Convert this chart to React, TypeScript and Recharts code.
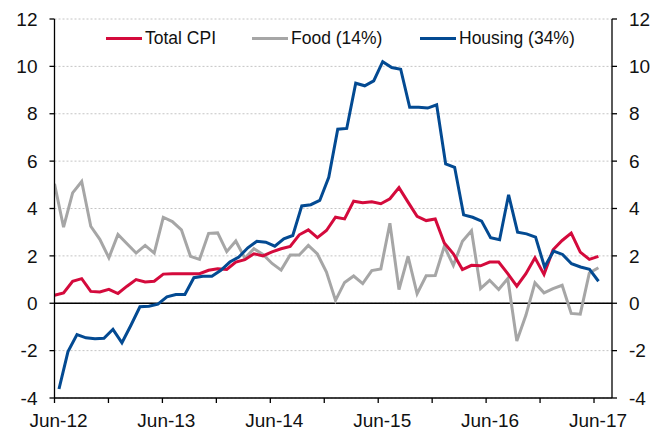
import React from 'react';
import { LineChart, Line, XAxis, YAxis, CartesianGrid, ReferenceLine, Legend } from 'recharts';

// Monthly observations, Jun-12 .. Jun-17 (61 months)
const months = [
  'Jun-12','Jul-12','Aug-12','Sep-12','Oct-12','Nov-12','Dec-12','Jan-13','Feb-13','Mar-13','Apr-13','May-13',
  'Jun-13','Jul-13','Aug-13','Sep-13','Oct-13','Nov-13','Dec-13','Jan-14','Feb-14','Mar-14','Apr-14','May-14',
  'Jun-14','Jul-14','Aug-14','Sep-14','Oct-14','Nov-14','Dec-14','Jan-15','Feb-15','Mar-15','Apr-15','May-15',
  'Jun-15','Jul-15','Aug-15','Sep-15','Oct-15','Nov-15','Dec-15','Jan-16','Feb-16','Mar-16','Apr-16','May-16',
  'Jun-16','Jul-16','Aug-16','Sep-16','Oct-16','Nov-16','Dec-16','Jan-17','Feb-17','Mar-17','Apr-17','May-17',
  'Jun-17',
];

const totalCPI = [
  0.34, 0.44, 0.93, 1.04, 0.5, 0.48, 0.59, 0.41, 0.72, 1.0, 0.9, 0.93,
  1.23, 1.25, 1.25, 1.25, 1.25, 1.39, 1.46, 1.43, 1.74, 1.84, 2.09, 2.0,
  2.17, 2.3, 2.4, 2.89, 3.1, 2.77, 3.07, 3.63, 3.56, 4.31, 4.24, 4.28,
  4.2, 4.41, 4.88, 4.27, 3.67, 3.49, 3.56, 2.54, 2.09, 1.42, 1.6, 1.58,
  1.74, 1.74, 1.25, 0.72, 1.25, 1.92, 1.22, 2.26, 2.65, 2.96, 2.16, 1.85,
  1.98,
];

const food = [
  5.04, 3.21, 4.66, 5.14, 3.25, 2.7, 1.92, 2.9, 2.51, 2.12, 2.44, 2.12,
  3.63, 3.45, 3.1, 1.98, 1.85, 2.95, 2.97, 2.18, 2.63, 1.9, 2.3, 2.06,
  1.68, 1.4, 2.04, 2.04, 2.44, 2.08, 1.32, 0.12, 0.88, 1.15, 0.83, 1.38,
  1.45, 3.38, 0.58, 1.98, 0.4, 1.16, 1.17, 2.4, 1.6, 2.62, 3.06, 0.62,
  0.97, 0.58, 1.04, -1.59, -0.51, 0.86, 0.44, 0.62, 0.76, -0.43, -0.46, 1.28,
  1.5,
];

// Housing is dated mid-month
const housing = [
  -3.62, -2.04, -1.32, -1.46, -1.5, -1.48, -1.1, -1.67, -0.93, -0.15, -0.13, -0.04,
  0.27, 0.37, 0.37, 1.08, 1.14, 1.14, 1.39, 1.74, 1.95, 2.34, 2.62, 2.58,
  2.41, 2.72, 2.86, 4.11, 4.16, 4.34, 5.32, 7.35, 7.38, 9.29, 9.18, 9.39,
  10.2, 9.95, 9.88, 8.27, 8.27, 8.24, 8.38, 5.88, 5.74, 3.73, 3.63, 3.47,
  2.77, 2.68, 4.58, 3.0, 2.93, 2.79, 1.53, 2.2, 2.06, 1.67, 1.53, 1.43,
  0.93,
];

const seriesNames = ['Total CPI', 'Food (14%)', 'Housing (34%)'];
const xTickLabels = ['Jun-12', 'Jun-13', 'Jun-14', 'Jun-15', 'Jun-16', 'Jun-17'];
const yTicks = [-4, -2, 0, 2, 4, 6, 8, 10, 12];

const RED = '#d40a3c';
const GREY = '#a6a6a6';
const BLUE = '#034a92';
const FONT = '"Liberation Sans", Arial, sans-serif';

const cpiData = months.map((m, i) => ({ x: i, month: m, v: totalCPI[i] }));
const foodData = months.map((m, i) => ({ x: i, month: m, v: food[i] }));
const housingData = months.map((m, i) => ({ x: i + 0.5, month: m, v: housing[i] }));

// ticks every six months, labelled every twelve
const xTicks = months.map((_, i) => i).filter((i) => i % 6 === 0);
const xTickFormatter = (v: number) => {
  const idx = months.indexOf(months[v]);
  return v % 12 === 0 && idx >= 0 ? xTickLabels[v / 12] : '';
};

const legendItems = [
  { label: seriesNames[0], color: RED, left: 106 },
  { label: seriesNames[1], color: GREY, left: 252 },
  { label: seriesNames[2], color: BLUE, left: 420 },
];

const LegendContent = () => (
  <div style={{ position: 'relative', width: 665, height: 24 }}>
    {legendItems.map((it) => (
      <div
        key={it.label}
        style={{ position: 'absolute', left: it.left, top: 0, height: 24, display: 'flex', alignItems: 'center', whiteSpace: 'nowrap' }}
      >
        <span style={{ display: 'inline-block', width: 36, height: 3, background: it.color, marginRight: 3 }} />
        <span style={{ fontFamily: FONT, fontSize: 17.5, color: '#111' }}>{it.label}</span>
      </div>
    ))}
  </div>
);

const tickStyle = { fill: '#111', fontSize: 19, fontFamily: FONT };

export default function App() {
  return (
    <div style={{ position: 'absolute', left: 0, top: 0 }}>
      <LineChart width={665} height={434} margin={{ top: 19, right: 0, bottom: 0, left: 0 }}>
        <CartesianGrid xAxisId="main" yAxisId="left" vertical={false} stroke="#c4c4c4" strokeDasharray="2 2" />
        <XAxis
          xAxisId="main"
          type="number"
          dataKey="x"
          domain={[0, 62]}
          ticks={xTicks}
          tickFormatter={xTickFormatter}
          interval={0}
          allowDataOverflow
          height={36}
          tickSize={5}
          tickMargin={11}
          axisLine={{ stroke: '#000', strokeWidth: 1.3 }}
          tickLine={{ stroke: '#000', strokeWidth: 1.3 }}
          tick={{ ...tickStyle, dx: 4 }}
        />
        <XAxis xAxisId="rg" type="number" dataKey="x" domain={[0, 61.5]} hide allowDataOverflow />
        <YAxis
          yAxisId="left"
          domain={[-4, 12]}
          ticks={yTicks}
          interval={0}
          allowDataOverflow
          width={54.5}
          tickSize={5}
          tickMargin={12}
          axisLine={{ stroke: '#000', strokeWidth: 1.3 }}
          tickLine={{ stroke: '#000', strokeWidth: 1.3 }}
          tick={tickStyle}
        />
        <YAxis
          yAxisId="right"
          orientation="right"
          domain={[-4, 12]}
          ticks={yTicks}
          interval={0}
          allowDataOverflow
          width={53}
          tickSize={5}
          tickMargin={12}
          axisLine={{ stroke: '#000', strokeWidth: 1.3 }}
          tickLine={{ stroke: '#000', strokeWidth: 1.3 }}
          tick={tickStyle}
        />
        <ReferenceLine xAxisId="main" yAxisId="left" y={0} stroke="#000" strokeWidth={1.5} />
        <Legend
          layout="horizontal"
          verticalAlign="middle"
          align="center"
          content={LegendContent}
          wrapperStyle={{ top: 26, left: 0, width: 665, height: 24 }}
        />
        <Line
          name={seriesNames[1]}
          data={foodData}
          xAxisId="rg"
          yAxisId="left"
          dataKey="v"
          stroke={GREY}
          strokeWidth={3}
          dot={false}
          isAnimationActive={false}
        />
        <Line
          name={seriesNames[0]}
          data={cpiData}
          xAxisId="rg"
          yAxisId="left"
          dataKey="v"
          stroke={RED}
          strokeWidth={3}
          dot={false}
          isAnimationActive={false}
        />
        <Line
          name={seriesNames[2]}
          data={housingData}
          xAxisId="main"
          yAxisId="left"
          dataKey="v"
          stroke={BLUE}
          strokeWidth={3}
          dot={false}
          isAnimationActive={false}
        />
      </LineChart>
    </div>
  );
}
